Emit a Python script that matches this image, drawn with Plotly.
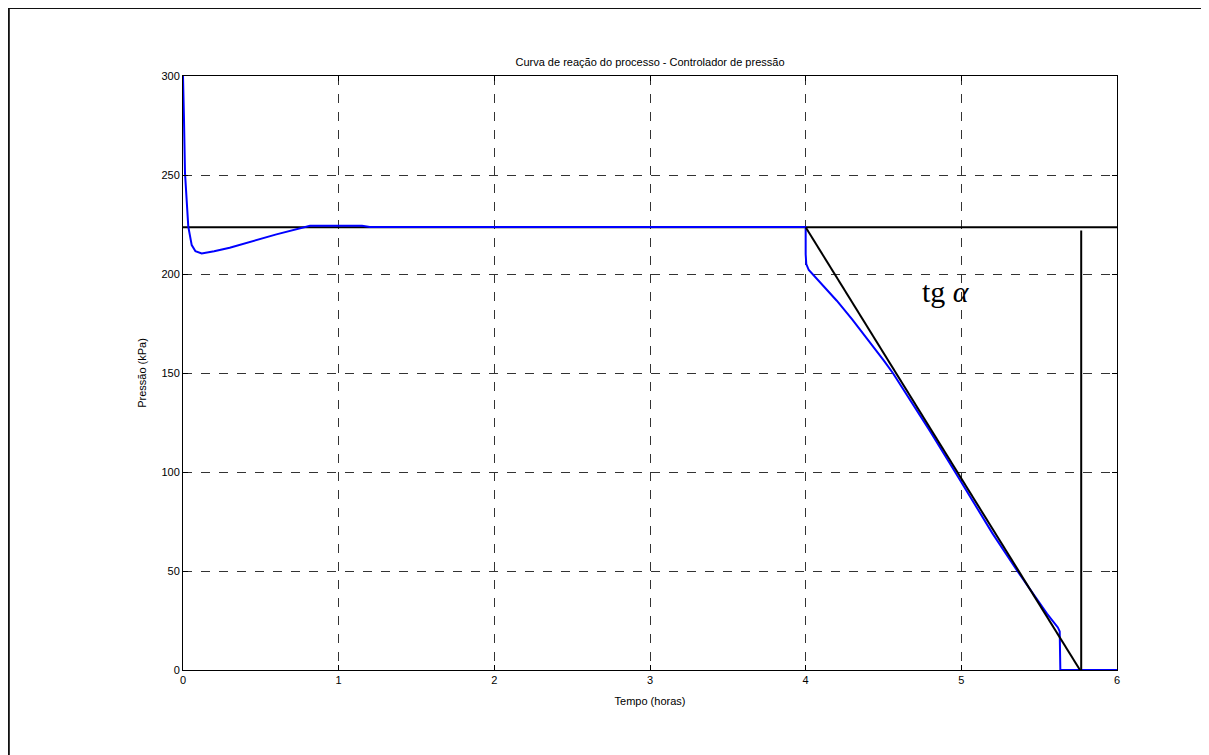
import plotly.graph_objects as go

# Blue process reaction curve (time in hours, pressure in kPa)
tempo = [0.0, 0.003, 0.006, 0.013, 0.024, 0.034, 0.056, 0.08, 0.12, 0.2, 0.3, 0.43, 0.6, 0.816,
         1.0, 1.15, 1.2, 2.0, 3.0, 4.0,
         4.0, 4.004, 4.02, 4.06, 4.12, 4.2, 4.3, 4.4, 4.5, 4.56, 4.7, 4.8, 4.96, 5.1, 5.2, 5.36,
         5.45, 5.55, 5.62, 5.632, 5.636, 6.0]
pressao = [300.0, 292.0, 279.5, 250.8, 235.7, 223.9, 214.6, 211.5, 210.4, 211.5, 213.3, 216.3, 220.0, 224.4,
           224.4, 224.4, 223.7, 223.7, 223.7, 223.7,
           210.0, 205.0, 202.0, 198.5, 193.5, 186.5, 177.0, 167.0, 156.5, 150.0, 133.0, 120.5, 100.0, 82.0, 69.0, 50.0,
           39.5, 28.5, 21.5, 19.5, 0.0, 0.0]

# Construction lines
nivel_x = [0.0, 6.0]
nivel_y = [223.6, 223.6]
tangente_x = [4.0, 5.77]
tangente_y = [223.6, -1.0]
vertical_x = [5.77, 5.77]
vertical_y = [0.0, 222.0]

x_ticks = [0, 1, 2, 3, 4, 5, 6]
y_ticks = [0, 50, 100, 150, 200, 250, 300]

fig = go.Figure()
fig.add_trace(go.Scatter(x=nivel_x, y=nivel_y, mode="lines",
                         line=dict(color="black", width=2), showlegend=False))
fig.add_trace(go.Scatter(x=tempo, y=pressao, mode="lines",
                         line=dict(color="#0000ff", width=2), showlegend=False))
fig.add_trace(go.Scatter(x=tangente_x, y=tangente_y, mode="lines",
                         line=dict(color="black", width=2), showlegend=False))
fig.add_trace(go.Scatter(x=vertical_x, y=vertical_y, mode="lines",
                         line=dict(color="black", width=2), showlegend=False))

fig.add_annotation(x=4.90, y=191, xref="x", yref="y", showarrow=False,
                   text="tg <i>α</i>",
                   font=dict(family="Liberation Serif, Times New Roman, serif", size=30, color="black"))

axis_common = dict(
    showgrid=True, gridcolor="#333333", griddash="dash", gridwidth=1,
    showline=True, linecolor="black", linewidth=1, mirror="ticks",
    ticks="inside", ticklen=5, tickcolor="black", zeroline=False,
    tickfont=dict(family="Liberation Sans, Arial, sans-serif", size=11, color="black"),
)

fig.update_xaxes(range=[0, 6], tickvals=x_ticks, ticktext=[str(v) for v in x_ticks],
                 title=dict(text="Tempo (horas)", standoff=12,
                            font=dict(family="Liberation Sans, Arial, sans-serif", size=11, color="black")),
                 **axis_common)
fig.update_yaxes(range=[0, 300], tickvals=y_ticks, ticktext=[str(v) for v in y_ticks],
                 title=dict(text="Pressão (kPa)", standoff=12,
                            font=dict(family="Liberation Sans, Arial, sans-serif", size=11, color="black")),
                 **axis_common)

# Outer figure frame (top and left edges visible)
fig.add_shape(type="line", xref="paper", yref="paper", x0=-0.1865, x1=1.12, y0=1.1145, y1=1.1145,
              line=dict(color="#111111", width=2))
fig.add_shape(type="line", xref="paper", yref="paper", x0=-0.1865, x1=-0.1865, y0=1.1145, y1=-0.15,
              line=dict(color="#111111", width=2))

fig.update_layout(
    width=1201, height=747,
    margin=dict(l=175, r=92, t=68, b=85),
    paper_bgcolor="white", plot_bgcolor="white",
    title=dict(text="Curva de reação do processo - Controlador de pressão",
               x=0.5, xref="paper", y=1 - 54 / 747, yanchor="middle",
               font=dict(family="Liberation Sans, Arial, sans-serif", size=11, color="black")),
)

fig.write_html("out.html")
